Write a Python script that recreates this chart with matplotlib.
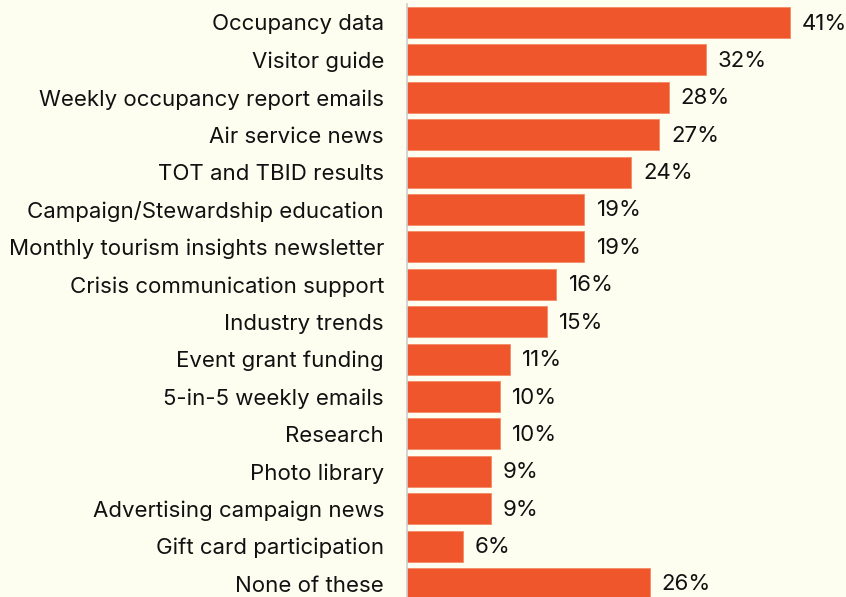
import matplotlib
matplotlib.use("Agg")
import matplotlib.pyplot as plt
from matplotlib.transforms import offset_copy

categories = [
    "Occupancy data",
    "Visitor guide",
    "Weekly occupancy report emails",
    "Air service news",
    "TOT and TBID results",
    "Campaign/Stewardship education",
    "Monthly tourism insights newsletter",
    "Crisis communication support",
    "Industry trends",
    "Event grant funding",
    "5-in-5 weekly emails",
    "Research",
    "Photo library",
    "Advertising campaign news",
    "Gift card participation",
    "None of these",
]
values = [41, 32, 28, 27, 24, 19, 19, 16, 15, 11, 10, 10, 9, 9, 6, 26]

BG = "#FDFEF0"
BAR = "#F0562C"

plt.rcParams["font.family"] = ["Inter", "DejaVu Sans"]

W, H = 846, 597
fig = plt.figure(figsize=(W / 100, H / 100), dpi=100, facecolor=BG)
ax = fig.add_axes([407 / W, 0, (W - 407) / W, (H - 4) / H])
ax.set_facecolor(BG)

pitch = 37.4
first = 22.5
y = list(range(len(categories)))
ax.barh(y, values, height=31 / pitch, color=BAR, edgecolor="#F48A66", linewidth=0.6)

ax.set_xlim(0, (W - 407) / 9.34)
ax.set_ylim((H - first) / pitch, (4 - first) / pitch)

ax.set_yticks(y)
ax.set_yticklabels(categories, fontsize=16, color="#111111")
ax.tick_params(axis="y", length=0, pad=16.5)
ax.set_xticks([])

for s in ["top", "right", "bottom"]:
    ax.spines[s].set_visible(False)
ax.spines["left"].set_color("#CCCCCC")
ax.spines["left"].set_linewidth(1.2)

tr = offset_copy(ax.transData, fig=fig, x=12, y=-1, units="dots")
for yi, v in zip(y, values):
    ax.text(v, yi, f"{v}%", transform=tr, va="center", ha="left",
            fontsize=16, color="#111111")

fig.savefig("out.png", dpi=100, facecolor=BG)
